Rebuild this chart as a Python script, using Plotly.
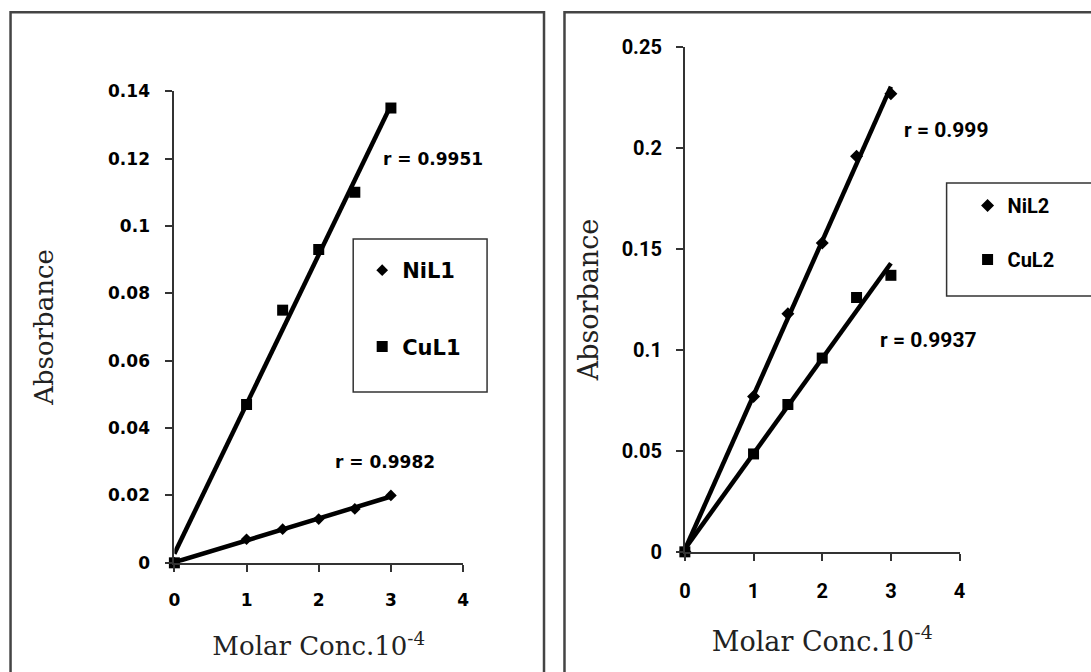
import numpy as np
import plotly.graph_objects as go

W, H = 1091, 672

# ---------------- data ----------------
conc = [0, 1, 1.5, 2, 2.5, 3]
nil1 = [0, 0.007, 0.010, 0.013, 0.016, 0.020]
cul1 = [0, 0.047, 0.075, 0.093, 0.110, 0.135]
nil2 = [0, 0.077, 0.118, 0.153, 0.196, 0.227]
cul2 = [0, 0.0485, 0.073, 0.096, 0.126, 0.137]

r_nil1 = "r = 0.9982"
r_cul1 = "r = 0.9951"
r_nil2 = "r = 0.999"
r_cul2 = "r = 0.9937"

x_ticks = [0, 1, 2, 3, 4]
x_ticktext = ["0", "1", "2", "3", "4"]
y1_ticks = [0, 0.02, 0.04, 0.06, 0.08, 0.10, 0.12, 0.14]
y1_ticktext = ["0", "0.02", "0.04", "0.06", "0.08", "0.1", "0.12", "0.14"]
y2_ticks = [0, 0.05, 0.10, 0.15, 0.20, 0.25]
y2_ticktext = ["0", "0.05", "0.1", "0.15", "0.2", "0.25"]

SX, SY = 0.99, 0.965


def px(x):
    return (545 + (x - 545) / SX) / W


def py(y):
    return 1 - (336 + (y - 336) / SY) / H


fig = go.Figure()

LEFT_FONT = "DejaVu Sans"
RIGHT_FONT = "Roboto"
SERIF = "DejaVu Serif"


def fit_line(xs, ys):
    k, b = np.polyfit(xs, ys, 1)
    xe = np.array([xs[0], xs[-1]], dtype=float)
    return xe, k * xe + b


# ---- left panel ----
for ys in [cul1, nil1]:
    xe, ye = fit_line(conc, ys)
    fig.add_trace(go.Scatter(x=xe, y=ye, mode="lines", line=dict(color="black", width=4.5),
                             showlegend=False, hoverinfo="skip", xaxis="x", yaxis="y", cliponaxis=False))

fig.add_trace(go.Scatter(x=conc, y=nil1, mode="markers", name="NiL1",
                         marker=dict(symbol="diamond", size=9, color="black"),
                         xaxis="x", yaxis="y", legend="legend", legendgroup="a", cliponaxis=False))
fig.add_trace(go.Scatter(x=conc, y=cul1, mode="markers", name="CuL1",
                         marker=dict(symbol="square", size=11, color="black"),
                         xaxis="x", yaxis="y", legend="legend", legendgroup="b", cliponaxis=False))

# ---- right panel ----
for ys in [nil2, cul2]:
    xe, ye = fit_line(conc, ys)
    fig.add_trace(go.Scatter(x=xe, y=ye, mode="lines", line=dict(color="black", width=4.5),
                             showlegend=False, hoverinfo="skip", xaxis="x2", yaxis="y2", cliponaxis=False))

fig.add_trace(go.Scatter(x=conc, y=nil2, mode="markers", name="NiL2",
                         marker=dict(symbol="diamond", size=10, color="black"),
                         xaxis="x2", yaxis="y2", legend="legend2", legendgroup="c", cliponaxis=False))
fig.add_trace(go.Scatter(x=conc, y=cul2, mode="markers", name="CuL2",
                         marker=dict(symbol="square", size=11, color="black"),
                         xaxis="x2", yaxis="y2", legend="legend2", legendgroup="d", cliponaxis=False))

axis_common = dict(showline=True, linecolor="#333", linewidth=2, showgrid=False, zeroline=False,
                   ticks="outside", ticklen=7, tickwidth=1.5, tickcolor="#333")

fig.update_layout(
    width=W, height=H,
    margin=dict(l=0, r=0, t=0, b=0),
    paper_bgcolor="white", plot_bgcolor="white",
    xaxis=dict(domain=[px(174), px(463)], range=[0, 4], tickvals=x_ticks, ticktext=x_ticktext,
               anchor="y", ticklabelstandoff=14,
               tickfont=dict(family=LEFT_FONT, size=17, color="black", weight="bold"),
               title=dict(text="Molar Conc.10<sup>-4</sup>", standoff=28,
                          font=dict(family=SERIF, size=26, color="#222")),
               **axis_common),
    yaxis=dict(domain=[py(563), py(91)], range=[0, 0.14], tickvals=y1_ticks, ticktext=y1_ticktext,
               anchor="x", ticklabelstandoff=12,
               tickfont=dict(family=LEFT_FONT, size=17, color="black", weight="bold"),
               title=dict(text="Absorbance", standoff=47,
                          font=dict(family=SERIF, size=26, color="#222")),
               **axis_common),
    xaxis2=dict(domain=[px(685), px(960)], range=[0, 4], tickvals=x_ticks, ticktext=x_ticktext,
                anchor="y2", ticklabelstandoff=13,
                tickfont=dict(family=RIGHT_FONT, size=20, color="black", weight="bold"),
                title=dict(text="Molar Conc.10<sup>-4</sup>", standoff=30,
                           font=dict(family=SERIF, size=27, color="#222")),
                **axis_common),
    yaxis2=dict(domain=[py(552), py(47)], range=[0, 0.25], tickvals=y2_ticks, ticktext=y2_ticktext,
                anchor="x2", ticklabelstandoff=10,
                tickfont=dict(family=RIGHT_FONT, size=20, color="black", weight="bold"),
                title=dict(text="Absorbance", standoff=15,
                           font=dict(family=SERIF, size=27, color="#222")),
                **axis_common),
    legend=dict(x=px(362), y=py(250), xanchor="left", yanchor="top", bgcolor="rgba(0,0,0,0)",
                borderwidth=0, tracegroupgap=46,
                font=dict(family=LEFT_FONT, size=21, color="black", weight="bold")),
    legend2=dict(x=px(968), y=py(186), xanchor="left", yanchor="top", bgcolor="rgba(0,0,0,0)",
                 borderwidth=0, tracegroupgap=25,
                 font=dict(family=RIGHT_FONT, size=20, color="black", weight="bold")),
    annotations=[
        dict(x=2.86, y=0.12, xref="x", yref="y", text=r_cul1, showarrow=False, xanchor="left",
             font=dict(family=LEFT_FONT, size=17, color="black", weight="bold")),
        dict(x=2.2, y=0.030, xref="x", yref="y", text=r_nil1, showarrow=False, xanchor="left",
             font=dict(family=LEFT_FONT, size=17, color="black", weight="bold")),
        dict(x=3.16, y=0.209, xref="x2", yref="y2", text=r_nil2, showarrow=False, xanchor="left",
             font=dict(family=RIGHT_FONT, size=21, color="black", weight="bold")),
        dict(x=2.81, y=0.105, xref="x2", yref="y2", text=r_cul2, showarrow=False, xanchor="left",
             font=dict(family=RIGHT_FONT, size=21, color="black", weight="bold")),
    ],
    shapes=[
        # panel frames
        dict(type="rect", xref="paper", yref="paper", x0=px(10), x1=px(544), y0=-0.05, y1=py(12),
             line=dict(color="#444", width=2.5)),
        dict(type="rect", xref="paper", yref="paper", x0=px(564.5), x1=1.05, y0=-0.05, y1=py(12),
             line=dict(color="#444", width=2.5)),
        # legend frames
        dict(type="rect", xref="paper", yref="paper", x0=px(353), x1=px(487), y0=py(392), y1=py(239),
             line=dict(color="#333", width=1.5)),
        dict(type="rect", xref="paper", yref="paper", x0=px(947), x1=1.05, y0=py(296), y1=py(183),
             line=dict(color="#333", width=1.5)),
    ],
)

fig.write_html("out.html")
